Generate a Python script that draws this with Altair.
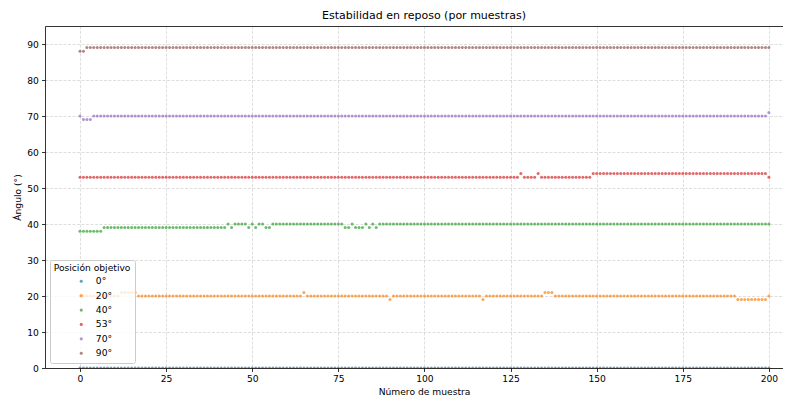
import altair as alt
import pandas as pd

# ---- data ----
samples = list(range(201))
series_labels = ["0°", "20°", "40°", "53°", "70°", "90°"]
series_colors = ["#1f77b4", "#ff7f0e", "#2ca02c", "#d62728", "#9467bd", "#8c564b"]

# each series as (value, how many consecutive samples) runs
runs_0 = [(0, 201)]
runs_20 = [(20, 12), (21, 5), (20, 48), (21, 1), (20, 24), (19, 1), (20, 26),
           (19, 1), (20, 17), (21, 3), (20, 53), (19, 9), (20, 1)]
runs_40 = [(38, 7), (39, 36), (40, 1), (39, 1), (40, 4), (39, 1), (40, 1),
           (39, 1), (40, 2), (39, 2), (40, 21), (39, 2), (40, 1), (39, 3),
           (40, 1), (39, 1), (40, 1), (39, 1), (40, 114)]
runs_53 = [(53, 128), (54, 1), (53, 4), (54, 1), (53, 15), (54, 51), (53, 1)]
runs_70 = [(70, 1), (69, 3), (70, 196), (71, 1)]
runs_90 = [(88, 2), (89, 199)]

x_ticks = [0, 25, 50, 75, 100, 125, 150, 175, 200]
y_ticks = [0, 10, 20, 30, 40, 50, 60, 70, 80, 90]

rows = []
for lab, runs in zip(series_labels, [runs_0, runs_20, runs_40, runs_53, runs_70, runs_90]):
    vals = [v for v, n in runs for _ in range(n)]
    for s, v in zip(samples, vals):
        rows.append({"muestra": s, "angulo": v, "pos": lab})
df = pd.DataFrame(rows)

FONT = "DejaVu Sans"
FS = 9.17

x_scale = alt.Scale(domain=[-10.16, 204.1], nice=False, zero=False)
y_scale = alt.Scale(domain=[0, 95], nice=False, zero=False)

points = alt.Chart(df).mark_circle(size=9, opacity=0.7, clip=True).encode(
    x=alt.X("muestra:Q", scale=x_scale,
            axis=alt.Axis(values=x_ticks, title="Número de muestra", titleX=379,
                          labelFlush=False, grid=True)),
    y=alt.Y("angulo:Q", scale=y_scale,
            axis=alt.Axis(values=y_ticks, title="Ángulo (°)", grid=True)),
    color=alt.Color("pos:N",
                    scale=alt.Scale(domain=series_labels, range=series_colors),
                    sort=series_labels,
                    legend=alt.Legend(
                        title="Posición objetivo", orient="bottom-left", offset=5,
                        fillColor="rgba(255,255,255,0.8)", strokeColor="#cccccc",
                        cornerRadius=2, padding=3.7,
                        titleFont=FONT, titleFontSize=FS, titleFontWeight="normal",
                        titleColor="black", titlePadding=3.8,
                        labelFont=FONT, labelFontSize=FS, labelColor="black",
                        symbolType="circle", symbolSize=10, symbolOpacity=0.7,
                        symbolStrokeWidth=0, symbolOffset=23, labelOffset=10,
                        rowPadding=4.4)),
)

top_spine = alt.Chart(df).mark_circle(opacity=0).encode(
    x=alt.X("muestra:Q", scale=x_scale,
            axis=alt.Axis(orient="top", labels=False, ticks=False, grid=False,
                          title=None, domain=True)),
)

chart = alt.layer(points, top_spine).resolve_axis(x="independent").properties(
    width=738,
    height=342,
    padding={"left": 37, "top": 18, "right": 0, "bottom": 31},
    autosize=alt.AutoSizeParams(type="none"),
    title=alt.TitleParams("Estabilidad en reposo (por muestras)", font=FONT,
                          fontSize=11, fontWeight="normal", color="black",
                          anchor="middle", dx=10, offset=5),
).configure_view(stroke=None).configure_axis(
    labelFont=FONT, labelFontSize=FS, labelColor="black",
    titleFont=FONT, titleFontSize=FS, titleFontWeight="normal", titleColor="black",
    domainColor="black", domainWidth=0.8,
    tickColor="black", tickWidth=0.8, tickSize=3.5,
    labelPadding=3.2, titlePadding=3.7,
    gridColor="#b0b0b0", gridOpacity=0.5, gridDash=[3, 1.5], gridWidth=0.8,
)

chart.save("out.html", embed_options={"renderer": "svg", "actions": False})
